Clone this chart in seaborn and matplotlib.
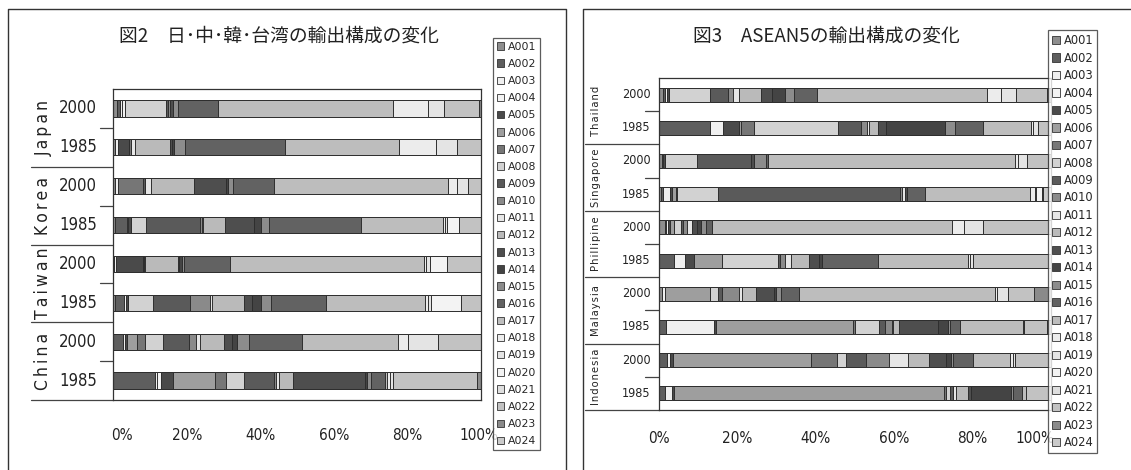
import numpy as np
import pandas as pd
import matplotlib
matplotlib.use("Agg")
import matplotlib.pyplot as plt
import matplotlib.transforms as mtransforms
import seaborn as sns
from matplotlib.lines import Line2D
from matplotlib.patches import Patch

sns.set_theme(style="white")
plt.rcParams['font.family'] = ['Noto Sans CJK JP', 'DejaVu Sans']

# 輸出品目 (凡例)
categories = [f"A{i:03d}" for i in range(1, 25)]
palette = ['#8e8e8e', '#5e5e5e', '#efefef', '#f2f2f2', '#4a4a4a', '#9e9e9e',
           '#767676', '#d2d2d2', '#5a5a5a', '#8a8a8a', '#e6e6e6', '#bababa',
           '#4e4e4e', '#444444', '#8c8c8c', '#626262', '#bdbdbd', '#ececec',
           '#e4e4e4', '#f3f3f3', '#dedede', '#c2c2c2', '#8a8a8a', '#cacaca']

# 図2 : 日・中・韓・台湾 (構成比 %)
japan_2000 = [1.0, 0.8, 0.6, 0.9, 0, 0, 0, 11.1, 0.6, 0.5, 0, 0, 0.7, 0, 1.3, 11.1, 47.5, 9.4, 4.4, 0, 0, 9.6, 0.5, 0]
japan_1985 = [0.5, 0, 0.9, 0, 3.0, 0, 0.3, 0, 0, 0, 1.1, 9.7, 0.5, 0.6, 3.0, 27.2, 30.9, 10.2, 5.5, 0, 0, 6.6, 0, 0]
korea_2000 = [0.5, 0, 0.9, 0, 0, 0, 6.8, 0, 0.4, 0, 1.6, 11.8, 8.7, 0.6, 1.4, 10.9, 47.5, 2.5, 2.8, 0, 0, 3.6, 0, 0]
korea_1985 = [0.5, 3.1, 0.5, 0, 0.6, 0, 0, 4.2, 14.6, 0.6, 0.4, 6.0, 7.7, 2.0, 2.3, 24.8, 22.5, 0.5, 0.6, 3.2, 0, 5.9, 0, 0]
taiwan_2000 = [0.2, 0, 0.5, 0, 7.3, 0, 0.4, 0, 0, 0, 0.3, 8.8, 0.5, 0.7, 0.6, 12.5, 52.7, 0.5, 1.2, 4.7, 0, 9.1, 0, 0]
taiwan_1985 = [0.5, 2.4, 0.6, 0, 0.5, 0, 0, 6.9, 10.0, 5.5, 0.4, 8.7, 2.2, 2.5, 2.8, 14.9, 26.9, 0.7, 0.9, 8.1, 0, 5.5, 0, 0]
china_2000 = [0, 2.7, 0.5, 0, 0.4, 2.8, 2.2, 5.0, 6.9, 2.1, 1.0, 6.4, 2.3, 1.3, 3.4, 14.4, 26.1, 2.7, 8.2, 0, 0, 11.6, 0, 0]
china_1985 = [0, 11.4, 0.4, 1.1, 3.3, 11.5, 3.0, 4.9, 8.0, 0.8, 0.6, 3.9, 19.5, 0.5, 1.1, 3.8, 0.7, 0.8, 0.9, 0, 0, 22.7, 1.1, 0]

# 図3 : ASEAN5 (構成比 %)
thailand_2000 = [0.9, 0.6, 0.6, 0, 0.5, 0, 0, 10.4, 4.7, 1.2, 1.6, 5.4, 2.8, 3.4, 2.3, 5.8, 43.4, 3.6, 3.9, 0, 0, 7.9, 1.0, 0]
thailand_1985 = [0, 13.0, 3.2, 0, 4.3, 0.3, 3.4, 21.5, 5.8, 1.6, 0.5, 2.3, 2.1, 14.9, 2.5, 7.3, 12.3, 0.5, 1.2, 0, 0, 3.3, 0, 0]
singapore_2000 = [0.7, 0, 0.4, 0, 0.4, 0, 0, 8.1, 13.8, 0, 0, 0, 0.8, 0, 3.2, 0.5, 62.9, 0.9, 2.1, 0, 0, 5.5, 0.7, 0]
singapore_1985 = [0.5, 0.6, 1.8, 0, 0.5, 0.9, 0.3, 10.5, 46.4, 0.4, 0.9, 0, 0.4, 0, 0, 4.7, 26.7, 1.3, 0.4, 1.3, 0, 0, 0.4, 2.0]
philippine_2000 = [1.5, 0.4, 0.5, 0, 0.4, 0.9, 0, 2.0, 0.3, 1.2, 1.1, 0, 1.4, 1.1, 1.1, 1.5, 61.3, 3.0, 4.9, 0, 0, 17.4, 0, 0]
philippine_1985 = [0, 3.8, 2.8, 0, 2.3, 7.1, 0, 14.4, 0.5, 1.2, 1.7, 4.5, 2.6, 0.6, 0.2, 14.2, 23.0, 0.4, 0.7, 0, 0, 20.0, 0, 0]
malaysia_2000 = [0.7, 0, 0.8, 0, 0, 11.5, 0, 2.1, 0.9, 4.5, 0.8, 3.5, 4.5, 0.5, 1.4, 4.6, 49.9, 0.4, 3.0, 0, 0, 6.6, 4.3, 0]
malaysia_1985 = [0, 1.8, 12.3, 0, 0.4, 35.1, 0.4, 6.2, 1.5, 1.7, 0.4, 1.5, 10.0, 2.5, 0.4, 2.6, 16.0, 0.3, 0, 0, 0, 5.9, 1.0, 0]
indonesia_2000 = [0, 2.1, 0.8, 0, 0.7, 35.3, 6.4, 2.5, 4.9, 6.0, 4.8, 5.4, 4.4, 1.3, 0.4, 5.0, 9.5, 0.7, 0.6, 0, 0, 9.2, 0, 0]
indonesia_1985 = [0, 1.5, 1.9, 0, 0.4, 68.9, 0.5, 1.0, 0.9, 0, 0.7, 3.1, 0.8, 10.2, 0.4, 2.4, 0.9, 0, 0, 0, 0, 6.4, 0, 0]

left_countries = ['Japan', 'Korea', 'Taiwan', 'China']
left_rows = [japan_2000, japan_1985, korea_2000, korea_1985,
             taiwan_2000, taiwan_1985, china_2000, china_1985]
right_countries = ['Thailand', 'Singapore', 'Phillipine', 'Malaysia', 'Indonesia']
right_rows = [thailand_2000, thailand_1985, singapore_2000, singapore_1985,
              philippine_2000, philippine_1985, malaysia_2000, malaysia_1985,
              indonesia_2000, indonesia_1985]
years = ['2000', '1985']

W, H = 1131, 470
fig = plt.figure(figsize=(W / 100, H / 100), dpi=100)
fig.patch.set_facecolor('white')

narrow = ['DejaVu Sans Condensed', 'Liberation Sans Narrow', 'DejaVu Sans']


def draw_panel(rect, countries, rows, year_x, country_x, line_x, ylab_size,
               clab_size, xlab_pad, xlab_size, spacer, first_dx, last_dx):
    ax = fig.add_axes(rect)
    labels = [f"{c} {y}" for c in countries for y in years]
    df = pd.DataFrame(rows, columns=categories, index=labels)
    share = df.div(df.sum(axis=1), axis=0) * 100
    cum = share.cumsum(axis=1)
    # 100%積み上げ横棒 (右端から順に重ねる)
    for k in range(len(categories) - 1, -1, -1):
        sns.barplot(x=cum.iloc[:, k].values, y=labels, orient='h',
                    color=palette[k], saturation=1, width=0.42,
                    edgecolor='#2e2e2e', linewidth=0.7, errorbar=None, ax=ax)
    n = len(labels)
    ax.set_xlim(0, 100)
    ax.set_ylim(n - 0.5, -0.5)
    ax.set_xticks([0, 20, 40, 60, 80, 100])
    ax.set_xticklabels([f"{t}%" for t in range(0, 101, 20)],
                       family=narrow, stretch='condensed',
                       fontsize=xlab_size, color='#222')
    ax.tick_params(axis='x', direction='in', length=5, width=0.8,
                   color='#555', pad=xlab_pad)
    tl = ax.get_xticklabels()
    for lab, dx in [(tl[0], first_dx), (tl[-1], last_dx)]:
        lab.set_transform(lab.get_transform() + mtransforms.ScaledTranslation(
            dx / 100, 0, fig.dpi_scale_trans))
    ax.set_yticks([])
    ax.set_xlabel('')
    ax.set_ylabel('')
    for s in ax.spines.values():
        s.set_color('#333')
        s.set_linewidth(0.9)
    tr = ax.get_yaxis_transform()
    for i in range(n):
        ax.text(year_x, i, years[i % 2], transform=tr, ha='right', va='center',
                fontsize=ylab_size, family=narrow, stretch='condensed',
                color='#222')
    for g, c in enumerate(countries):
        ax.text(country_x, 2 * g + 0.5, spacer.join(c),
                transform=tr, ha='center', va='center', rotation=90,
                fontsize=clab_size, family=narrow, stretch='condensed',
                color='#222')
        # 区切り線
        ax.add_line(Line2D([line_x, 0], [2 * g + 1.5] * 2, transform=tr,
                           color='#444', lw=0.9, clip_on=False))
        ax.add_line(Line2D([-0.035, 0], [2 * g + 0.5] * 2, transform=tr,
                           color='#444', lw=0.9, clip_on=False))
    return ax


# 左パネル
axl = draw_panel([113.3 / W, 70 / H, 367.5 / W, 311 / H], left_countries, left_rows,
                 year_x=-0.045, country_x=-0.19, line_x=-0.225,
                 ylab_size=12, clab_size=12.5, xlab_pad=20, xlab_size=11,
                 spacer='\u2009', first_dx=9, last_dx=-2)
# 右パネル
axr = draw_panel([659 / W, 60 / H, 392 / W, 332 / H], right_countries, right_rows,
                 year_x=-0.022, country_x=-0.16, line_x=-0.19,
                 ylab_size=9, clab_size=8, xlab_pad=15, xlab_size=11,
                 spacer='\u200a', first_dx=0, last_dx=-16)

# タイトル
fig.text(279 / W, 1 - 36 / H, '図2　日･中･韓･台湾の輸出構成の変化', ha='center',
         va='center', fontsize=13.5, color='#222')
fig.text(826 / W, 1 - 36 / H, '図3　ASEAN5の輸出構成の変化', ha='center',
         va='center', fontsize=13.5, color='#222')

# 外枠
for xs, ys in [([8, 8, 566, 566], [470, 9, 9, 470]),
               ([583, 583, 1131], [470, 9, 9])]:
    fig.add_artist(Line2D([x / W for x in xs], [1 - y / H for y in ys],
                          transform=fig.transFigure, color='#333', lw=1.0))

# 凡例
handles = [Patch(facecolor=palette[k], edgecolor='#333', linewidth=0.6,
                 label=categories[k]) for k in range(len(categories))]
for x0, y0, fs, sp in [(493, 38, 7.8, 0.66), (1048, 30, 8.3, 0.39)]:
    leg = fig.legend(handles=handles, loc='upper left',
                     bbox_to_anchor=(x0 / W, 1 - y0 / H),
                     prop={'family': narrow, 'size': fs},
                     handlelength=0.7, handleheight=0.7, handletextpad=0.3,
                     labelspacing=sp, borderpad=0.35, borderaxespad=0,
                     frameon=True, fancybox=False, edgecolor='#333')
    leg.get_frame().set_linewidth(0.9)

fig.savefig('out.png', dpi=100, facecolor='white')
